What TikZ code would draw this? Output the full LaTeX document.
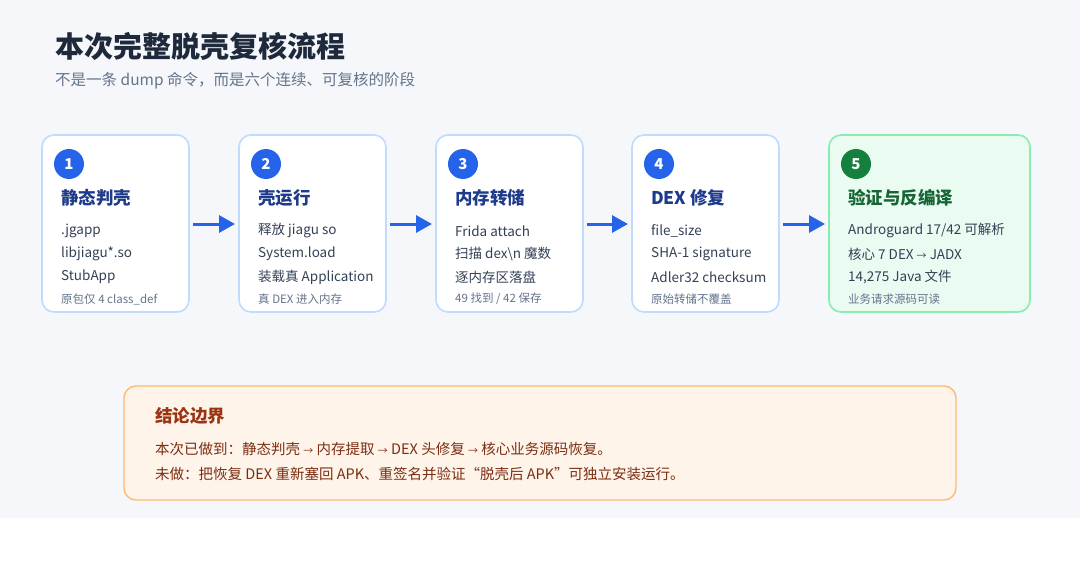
\documentclass[tikz,border=0pt]{standalone}
\usepackage{fontspec}
\setmainfont{Noto Sans CJK SC}
\usetikzlibrary{arrows.meta,positioning}
\definecolor{bgpage}{HTML}{F5F7FB}
\definecolor{titlecol}{HTML}{1E293B}
\definecolor{subcol}{HTML}{64748B}
\definecolor{bluebd}{HTML}{BFDBFE}
\definecolor{bluefill}{HTML}{2563EB}
\definecolor{bluetxt}{HTML}{1E3A8A}
\definecolor{greenbd}{HTML}{86EFAC}
\definecolor{greenbg}{HTML}{EAFBF2}
\definecolor{greendk}{HTML}{15803D}
\definecolor{greentxt}{HTML}{166534}
\definecolor{bodycol}{HTML}{334155}
\definecolor{notecol}{HTML}{64748B}
\definecolor{orangebd}{HTML}{FDBA74}
\definecolor{orangebg}{HTML}{FEF4EA}
\definecolor{orangetxt}{HTML}{9A3412}
\definecolor{orangebody}{HTML}{7C2D12}

\begin{document}
\begin{tikzpicture}[x=1pt,y=-1pt,
    card/.style={draw=bluebd,line width=1.6pt,fill=white,rounded corners=12pt},
    okcard/.style={card,draw=greenbd,fill=greenbg},
    badge/.style={circle,fill=bluefill,text=white,minimum size=30pt,inner sep=0pt,
      font=\fontsize{15}{15}\selectfont\bfseries},
    head/.style={anchor=west,text=bluetxt,inner sep=0pt,font=\fontsize{17.5}{17.5}\selectfont\bfseries},
    item/.style={anchor=west,text=bodycol,font=\fontsize{13.5}{13.5}\selectfont,inner sep=0pt},
    note/.style={anchor=west,text=notecol,font=\fontsize{11.5}{11.5}\selectfont,inner sep=0pt},
    flow/.style={-{Triangle[length=16pt,width=17pt]},draw=bluefill,line width=3pt}]

  \fill[bgpage] (0,0) rectangle (1080,518);
  \fill[white] (0,518) rectangle (1080,586);
  \useasboundingbox (0,0) rectangle (1080,586);

  \node[anchor=west,inner sep=0pt,text=titlecol,font=\fontsize{29}{29}\selectfont\bfseries] (title) at (55,46) {本次完整脱壳复核流程};
  \node[anchor=west,inner sep=0pt,text=subcol,font=\fontsize{15.5}{15.5}\selectfont] (sub) at (55,81) {不是一条 dump 命令，而是六个连续、可复核的阶段};

  % stage cards
  \draw[card] (42,135) rectangle (189,312);
  \draw[card] (239,135) rectangle (386,312);
  \draw[card] (436,135) rectangle (583,312);
  \draw[card] (632,135) rectangle (779,312);
  \draw[okcard] (829,135) rectangle (1030,312);

  \node[badge] (b1) at (69,164) {1};
  \node[badge] (b2) at (266,164) {2};
  \node[badge] (b3) at (463,164) {3};
  \node[badge] (b4) at (659,164) {4};
  \node[badge,fill=greendk] (b5) at (856,164) {5};

  \node[head] (h1) at (61,198) {静态判壳};
  \node[head] (h2) at (258,198) {壳运行};
  \node[head] (h3) at (455,198) {内存转储};
  \node[head] (h4) at (651,198) {DEX 修复};
  \node[head,text=greentxt] (h5) at (848,198) {验证与反编译};

  \node[item] at (61,231) {.jgapp};
  \node[item] at (61,254) {libjiagu*.so};
  \node[item] at (61,277) {StubApp};
  \node[note] at (61,299) {原包仅 4 class\_def};

  \node[item] at (258,231) {释放 jiagu so};
  \node[item] at (258,254) {System.load};
  \node[item] at (258,277) {装载真 Application};
  \node[note] at (258,299) {真 DEX 进入内存};

  \node[item] at (455,231) {Frida attach};
  \node[item] at (455,254) {扫描 dex\textbackslash n 魔数};
  \node[item] at (455,277) {逐内存区落盘};
  \node[note] at (455,299) {49 找到 / 42 保存};

  \node[item] at (651,231) {file\_size};
  \node[item] at (651,254) {SHA-1 signature};
  \node[item] at (651,277) {Adler32 checksum};
  \node[note] at (651,299) {原始转储不覆盖};

  \node[item] at (848,231) {Androguard 17/42 可解析};
  \node[item] at (848,254) {核心 7 DEX {\fontsize{10}{10}\selectfont →} JADX};
  \node[item] at (848,277) {14,275 Java 文件};
  \node[note] at (848,299) {业务请求源码可读};

  \coordinate (a1) at (193,224); \coordinate (a1') at (235,224);
  \coordinate (a2) at (390,224); \coordinate (a2') at (432,224);
  \coordinate (a3) at (587,224); \coordinate (a3') at (628,224);
  \coordinate (a4) at (783,224); \coordinate (a4') at (825,224);
  \draw[flow] (a1) -- (a1');
  \draw[flow] (a2) -- (a2');
  \draw[flow] (a3) -- (a3');
  \draw[flow] (a4) -- (a4');

  % conclusion box
  \draw[draw=orangebd,fill=orangebg,line width=1.4pt,rounded corners=12pt] (124,386) rectangle (956,500);
  \node[anchor=west,inner sep=0pt,text=orangetxt,font=\fontsize{17.5}{17.5}\selectfont\bfseries] (ct) at (155,416) {结论边界};
  \node[anchor=west,text=orangebody,font=\fontsize{14.5}{14.5}\selectfont,inner sep=0pt] (c1) at (155,449)
    {本次已做到：静态判壳 {\fontsize{10}{10}\selectfont →} 内存提取 {\fontsize{10}{10}\selectfont →} DEX 头修复 {\fontsize{10}{10}\selectfont →} 核心业务源码恢复。};
  \node[anchor=west,text=orangebody,font=\fontsize{14.5}{14.5}\selectfont,inner sep=0pt] (c2) at (155,474)
    {未做：把恢复 DEX 重新塞回 APK、重签名并验证“脱壳后 APK”可独立安装运行。};
\end{tikzpicture}
\end{document}
